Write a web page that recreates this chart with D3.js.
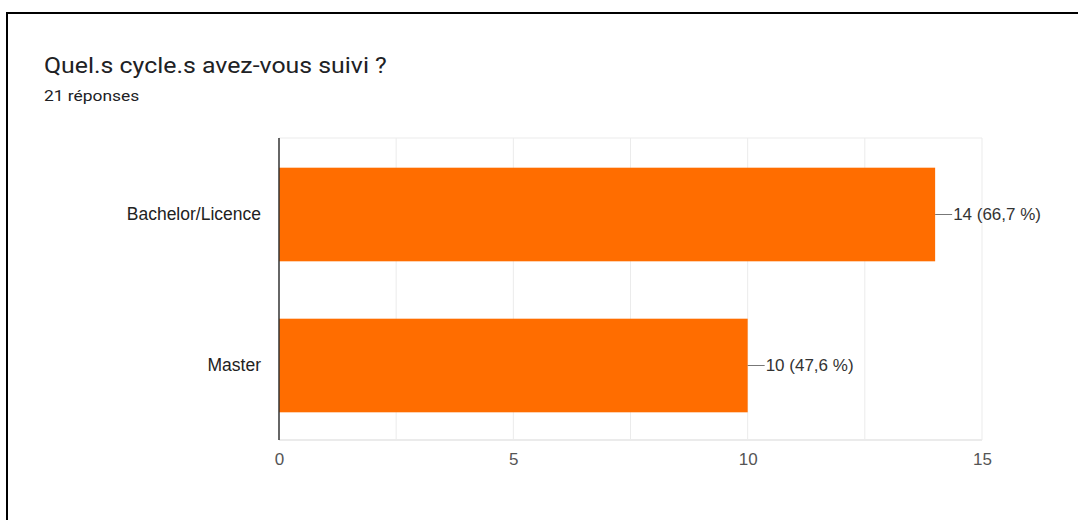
<!DOCTYPE html>
<html><head><meta charset="utf-8">
<script src="https://cdn.jsdelivr.net/npm/d3@7"></script>
<style>body{margin:0;background:#fff;}svg{display:block;font-family:"Liberation Sans",Arial,sans-serif;}</style>
</head><body>
<svg id="c" width="1078" height="520"></svg>
<script>
const categories = ["Bachelor/Licence", "Master"];
const values = [14, 10];
const percents = ["66,7 %", "47,6 %"];
const xTicks = [0, 5, 10, 15];
const gridTicks = [0, 2.5, 5, 7.5, 10, 12.5, 15];
const title = "Quel.s cycle.s avez-vous suivi ?";
const subtitle = "21 réponses";

const svg = d3.select("#c");
// border (top and left)
svg.append("line").attr("x1",6).attr("x2",1078).attr("y1",13).attr("y2",13).attr("stroke","#000").attr("stroke-width",2);
svg.append("line").attr("x1",7).attr("x2",7).attr("y1",12).attr("y2",520).attr("stroke","#000").attr("stroke-width",2);

svg.append("g").attr("transform","translate(44,73) scale(1.13,1)")
  .append("text").attr("x",0).attr("y",0).attr("font-size",22).attr("font-family","Roboto,Arial,sans-serif").attr("fill","#202124").text(title);
svg.append("g").attr("transform","translate(44,101) scale(1.2,1)")
  .append("text").attr("x",0).attr("y",0).attr("font-size",14.5).attr("font-family","Roboto,Arial,sans-serif").attr("fill","#202124").text(subtitle);

const pLeft = 279, pRight = 982, pTop = 138, pBottom = 440;
const x = d3.scaleLinear().domain([0,15]).range([pLeft,pRight]);
const y = d3.scaleBand().domain(categories).range([pTop,pBottom]).paddingInner(0.38).paddingOuter(0.19);

// grid
svg.append("g").selectAll("line").data(gridTicks.filter(d=>d>0)).join("line")
  .attr("x1",d=>x(d)).attr("x2",d=>x(d)).attr("y1",pTop).attr("y2",pBottom)
  .attr("stroke","#ebebeb").attr("stroke-width",1);
svg.append("line").attr("x1",pLeft).attr("x2",pRight).attr("y1",pTop).attr("y2",pTop).attr("stroke","#ebebeb");
svg.append("line").attr("x1",pLeft).attr("x2",pRight).attr("y1",pBottom).attr("y2",pBottom).attr("stroke","#ebebeb").attr("stroke-width",2);

// bars
svg.append("g").selectAll("rect").data(categories).join("rect")
  .attr("x",x(0)).attr("y",d=>y(d)+1).attr("width",(d,i)=>x(values[i])-x(0)).attr("height",y.bandwidth())
  .attr("fill","#ff6d00");

// axis line
svg.append("line").attr("x1",pLeft).attr("x2",pLeft).attr("y1",pTop).attr("y2",pBottom).attr("stroke","#333").attr("stroke-width",1.5);

// x tick labels
const xAxis = d3.axisBottom(x).tickValues(xTicks).tickSize(0).tickPadding(13).tickFormat(d3.format("d"));
const gx = svg.append("g").attr("transform",`translate(0,${pBottom})`).call(xAxis);
gx.select(".domain").remove();
gx.selectAll("text").attr("font-size",17).attr("fill","#555").attr("font-family","'Liberation Sans',Arial,sans-serif");

// category labels
const yAxis = d3.axisLeft(y).tickSize(0).tickPadding(18);
const gy = svg.append("g").attr("transform",`translate(${pLeft},1)`).call(yAxis);
gy.select(".domain").remove();
gy.selectAll("text").attr("font-size",17.5).attr("fill","#222").attr("font-family","'Liberation Sans',Arial,sans-serif");

// value labels with leader lines
categories.forEach((c,i)=>{
  const cy = y(c)+1+y.bandwidth()/2;
  const xe = x(values[i]);
  svg.append("line").attr("x1",xe).attr("x2",xe+17).attr("y1",cy).attr("y2",cy).attr("stroke","#777").attr("stroke-width",1);
  svg.append("text").attr("x",xe+18).attr("y",cy).attr("dy","0.35em").attr("font-size",17).attr("fill","#333")
    .text(`${values[i]} (${percents[i]})`);
});
</script>
</body></html>
